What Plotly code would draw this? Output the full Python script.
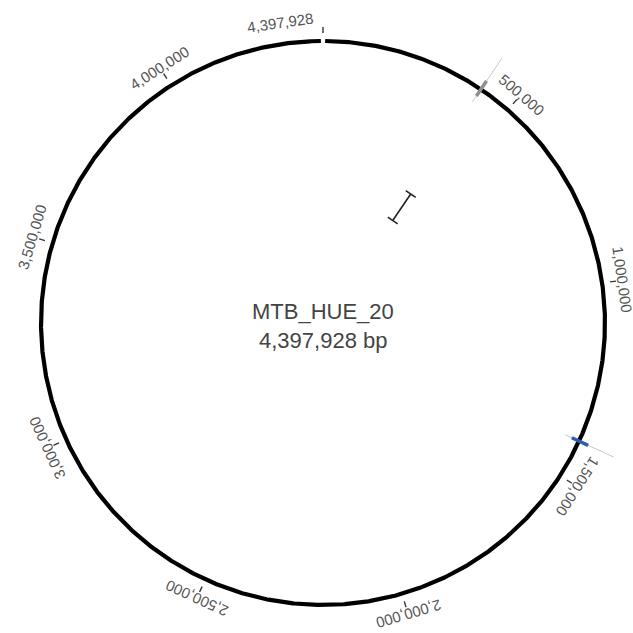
import numpy as np
import plotly.graph_objects as go

# Genome and backbone ticks
genome_name = "MTB_HUE_20"
genome_length = 4397928
tick_positions = [500000, 1000000, 1500000, 2000000, 2500000, 3000000, 3500000, 4000000, 4397928]
tick_labels = ["500,000", "1,000,000", "1,500,000", "2,000,000", "2,500,000",
               "3,000,000", "3,500,000", "4,000,000", "4,397,928"]

# Annotated features on the backbone
feature_positions = [416000, 1402000]
feature_colors = ["#8f8f8f", "#2c5db3"]

# Inner track mark
mark_position = 418000

# Geometry (pixels in data units)
R = 282
TICK_IN, TICK_OUT = 290, 296
LABEL_R = 303
END_LABEL_SHIFT = -8.0


def to_xy(pos, r):
    th = 2 * np.pi * np.asarray(pos, dtype=float) / genome_length
    return r * np.sin(th), r * np.cos(th)


def angle_deg(pos):
    return 360.0 * pos / genome_length


fig = go.Figure()

# Backbone circle with a hairline break at the origin
pos = np.linspace(genome_length * 0.0012, genome_length * 0.9988, 1500)
x, y = to_xy(pos, R)
fig.add_trace(go.Scatter(x=x, y=y, mode="lines",
                         line=dict(color="#000000", width=4.2),
                         hoverinfo="skip", showlegend=False))

# Tick marks
tx, ty = [], []
for p in tick_positions:
    x0, y0 = to_xy(p, TICK_IN)
    x1, y1 = to_xy(p, TICK_OUT)
    tx += [x0, x1, None]
    ty += [y0, y1, None]
fig.add_trace(go.Scatter(x=tx, y=ty, mode="lines",
                         line=dict(color="#333333", width=1.4),
                         hoverinfo="skip", showlegend=False))

# Features: light guide line plus coloured block on the backbone
for p, c in zip(feature_positions, feature_colors):
    gx, gy = to_xy([p, p], [267, 320])
    fig.add_trace(go.Scatter(x=gx, y=gy, mode="lines",
                             line=dict(color="#c8c8c8", width=1),
                             hoverinfo="skip", showlegend=False))
    fx, fy = to_xy([p, p], [274, 292])
    fig.add_trace(go.Scatter(x=fx, y=fy, mode="lines",
                             line=dict(color=c, width=3.5),
                             hoverinfo="skip", showlegend=False))

# Inner track mark: radial bar with end caps
th = 2 * np.pi * mark_position / genome_length
r0, r1 = 124, 156
cap = 6
ux, uy = np.sin(th), np.cos(th)      # radial
vx, vy = np.cos(th), -np.sin(th)     # tangential
mx = [r0 * ux, r1 * ux, None,
      r0 * ux - cap * vx, r0 * ux + cap * vx, None,
      r1 * ux - cap * vx, r1 * ux + cap * vx]
my = [r0 * uy, r1 * uy, None,
      r0 * uy - cap * vy, r0 * uy + cap * vy, None,
      r1 * uy - cap * vy, r1 * uy + cap * vy]
fig.add_trace(go.Scatter(x=mx, y=my, mode="lines",
                         line=dict(color="#222222", width=1.6),
                         hoverinfo="skip", showlegend=False))

# Tick labels, rotated along the circle
annotations = []
for p, lab in zip(tick_positions, tick_labels):
    a = angle_deg(p)
    if p == genome_length:
        a += END_LABEL_SHIFT
    lx = LABEL_R * np.sin(np.radians(a))
    ly = LABEL_R * np.cos(np.radians(a))
    annotations.append(dict(x=lx, y=ly, text=lab, showarrow=False,
                            textangle=a, xanchor="center", yanchor="middle",
                            font=dict(family="Liberation Sans, Arial", size=15,
                                      color="#555555")))

# Centre title
annotations.append(dict(x=0, y=12, text=genome_name, showarrow=False,
                        xanchor="center", yanchor="middle",
                        font=dict(family="Liberation Sans, Arial", size=22, color="#444444")))
annotations.append(dict(x=0, y=-17, text=f"{genome_length:,} bp", showarrow=False,
                        xanchor="center", yanchor="middle",
                        font=dict(family="Liberation Sans, Arial", size=22, color="#444444")))

fig.update_layout(
    width=633, height=633,
    margin=dict(l=0, r=0, t=0, b=0),
    paper_bgcolor="white", plot_bgcolor="white",
    xaxis=dict(range=[-323, 310], visible=False, fixedrange=True),
    yaxis=dict(range=[-310, 323], visible=False, fixedrange=True),
    annotations=annotations,
    showlegend=False,
)

fig.write_html("out.html")
